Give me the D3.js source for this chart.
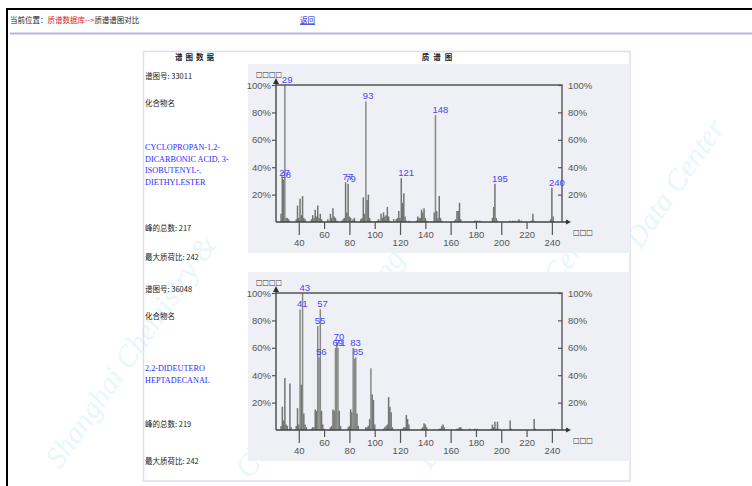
<!DOCTYPE html>
<html>
<head>
<meta charset="utf-8">
<script src="https://cdn.jsdelivr.net/npm/d3@7"></script>
<style>
  body { margin: 0; background: #fff; }
  svg { display: block; }
</style>
</head>
<body>
<svg width="752" height="486"></svg>
<script>
// spectrum 1: 33011
var peaks1 = [
  [26, 6], [27, 32], [28, 31], [29, 100], [30, 3], [31, 3], [32, 2],
  [38, 2], [39, 12], [40, 3], [41, 17], [42, 5], [43, 19], [44, 3], [45, 2],
  [50, 2], [51, 5], [52, 3], [53, 9], [54, 4], [55, 12], [56, 3], [57, 6], [58, 2],
  [63, 2], [65, 6], [66, 3], [67, 10], [68, 4], [69, 3], [70, 1],
  [74, 1], [75, 2], [76, 3], [77, 29], [78, 7], [79, 28], [80, 4], [81, 3], [82, 1], [83, 2], [84, 3],
  [89, 2], [90, 3], [91, 18], [92, 6], [93, 88], [94, 16], [95, 20], [96, 3], [97, 1],
  [102, 1], [103, 2], [104, 1], [105, 6], [106, 3], [107, 7], [108, 4], [109, 5], [110, 11], [111, 4], [112, 1],
  [115, 2], [117, 2], [118, 3], [119, 8], [120, 3], [121, 32], [122, 14], [123, 21], [124, 4], [125, 1], [127, 1],
  [133, 1], [134, 4], [135, 3], [136, 3], [137, 9], [138, 7], [139, 10], [140, 3], [141, 1],
  [147, 7], [148, 78], [149, 8], [150, 3], [151, 19], [152, 3], [153, 1],
  [163, 1], [164, 2], [165, 8], [166, 8], [167, 14], [168, 2],
  [179, 1], [180, 1], [181, 1], [183, 1],
  [193, 3], [194, 11], [195, 28], [196, 3], [197, 1],
  [207, 1], [209, 1], [211, 1], [213, 1], [214, 2], [216, 1],
  [224, 1], [225, 6], [226, 1],
  [239, 2], [240, 25], [241, 4]
];
var labels1 = [29, 27, 28, 77, 79, 93, 121, 148, 195, 240];

// spectrum 2: 36048
var peaks2 = [
  [26, 3], [27, 17], [28, 7], [29, 38], [30, 4], [31, 3], [33, 34], [34, 2],
  [38, 3], [39, 16], [40, 4], [41, 88], [42, 33], [43, 100], [44, 12], [45, 4], [46, 2],
  [50, 1], [51, 2], [52, 2], [53, 15], [54, 14], [55, 76], [56, 53], [57, 88], [58, 14], [59, 4], [60, 1],
  [65, 2], [66, 3], [67, 15], [68, 14], [69, 60], [70, 64], [71, 60], [72, 14], [73, 3],
  [79, 2], [80, 3], [81, 15], [82, 13], [83, 60], [84, 52], [85, 53], [86, 12], [87, 3],
  [93, 2], [94, 2], [95, 3], [96, 8], [97, 45], [98, 26], [99, 22], [100, 4],
  [107, 1], [108, 2], [109, 3], [110, 4], [111, 24], [112, 17], [113, 13], [114, 2],
  [122, 1], [123, 2], [124, 2], [125, 11], [126, 8], [127, 4],
  [137, 1], [138, 2], [139, 5], [140, 4], [141, 2],
  [151, 1], [152, 1], [153, 3], [154, 4], [155, 2],
  [165, 1], [166, 1], [167, 2], [168, 2], [169, 1],
  [175, 1], [179, 1], [181, 1],
  [192, 1], [193, 4], [194, 2], [195, 6], [196, 1], [197, 6], [198, 1],
  [207, 7], [208, 1],
  [226, 8], [227, 1],
  [240, 1], [242, 1]
];
var labels2 = [41, 43, 55, 56, 57, 69, 70, 71, 83, 85];

var yTicks = [20, 40, 60, 80, 100];
var xMajor = [40, 80, 120, 160, 200, 240];
var xMinor = [60, 100, 140, 180, 220];

var svg = d3.select("svg");
var cjk = "'Noto Sans CJK SC', 'Noto Sans', sans-serif";
var sans = "'Liberation Sans', Arial, sans-serif";
var serif = "'Liberation Serif', 'Times New Roman', serif";

// watermark
var wm = svg.append("g").attr("fill", "#e8f7fa").style("font", "italic 30px " + serif);
[["Shanghai Chemistry &", 60, 470], ["Chemical Engineering", 250, 480], ["Engineering Data Center", 430, 470], ["Data Center", 640, 250]]
  .forEach(function (w) {
    wm.append("text").attr("transform", "translate(" + w[1] + "," + w[2] + ") rotate(-55)").text(w[0]);
  });

// page frame
svg.append("line").attr("x1", 6).attr("x2", 752).attr("y1", 9).attr("y2", 9).attr("stroke", "#000").attr("stroke-width", 2);
svg.append("line").attr("x1", 7).attr("x2", 7).attr("y1", 9).attr("y2", 486).attr("stroke", "#000").attr("stroke-width", 2);
svg.append("line").attr("x1", 10).attr("x2", 752).attr("y1", 33.5).attr("y2", 33.5).attr("stroke", "#b4b4e0").attr("stroke-width", 2);

var head = svg.append("text").attr("x", 10).attr("y", 23).style("font", "7.5px " + cjk);
head.append("tspan").attr("fill", "#222").text("当前位置：");
head.append("tspan").attr("fill", "#e0201c").text("质谱数据库-->");
head.append("tspan").attr("fill", "#222").text("质谱谱图对比");
svg.append("text").attr("x", 300).attr("y", 23).attr("fill", "#2020e0")
  .style("font", "7.5px " + cjk).style("text-decoration", "underline").text("返回");

// table
svg.append("rect").attr("x", 143.5).attr("y", 51.5).attr("width", 486.5).attr("height", 429.5)
  .attr("fill", "none").attr("stroke", "#dcdcf2").attr("stroke-width", 1.5);
svg.append("text").attr("x", 196).attr("y", 60).attr("text-anchor", "middle").attr("fill", "#222")
  .style("font", "bold 7.5px " + cjk).style("letter-spacing", "3px").text("谱图数据");
svg.append("text").attr("x", 439).attr("y", 60).attr("text-anchor", "middle").attr("fill", "#222")
  .style("font", "bold 7.5px " + cjk).style("letter-spacing", "4px").text("质谱图");

function info(y0, id, nameLines, nameY, count, maxmz, yCount, yMax) {
  var g = svg.append("g").style("font", "7.5px " + cjk).attr("fill", "#222");
  g.append("text").attr("x", 145).attr("y", y0).text("谱图号: " + id);
  g.append("text").attr("x", 145).attr("y", y0 + 27).text("化合物名");
  nameLines.forEach(function (l, i) {
    g.append("text").attr("x", 145).attr("y", nameY + i * 11.5).attr("fill", "#2c2cff")
      .style("font", "8.2px " + serif).text(l);
  });
  g.append("text").attr("x", 145).attr("y", yCount).text("峰的总数: " + count);
  g.append("text").attr("x", 145).attr("y", yMax).text("最大质荷比: " + maxmz);
}

function spectrum(peaks, labels, yTop, yBase) {
  svg.append("rect").attr("x", 248).attr("y", yTop - 21).attr("width", 382).attr("height", yBase - yTop + 52)
    .attr("fill", "#eef0f5");

  var x = d3.scaleLinear().domain([22, 248]).range([276, 562]);
  var y = d3.scaleLinear().domain([0, 100]).range([yBase, yTop]);
  var g = svg.append("g");

  g.selectAll(".bar").data(peaks).enter().append("line")
    .attr("x1", function (d) { return x(d[0]); })
    .attr("x2", function (d) { return x(d[0]); })
    .attr("y1", yBase)
    .attr("y2", function (d) { return y(d[1]); })
    .attr("stroke", function (d) { return d[1] > 40 ? "#888" : "#737373"; })
    .attr("stroke-width", 1.5);

  // frame
  g.append("path").attr("d", "M276," + yTop + "H562V" + yBase)
    .attr("fill", "none").attr("stroke", "#555").attr("stroke-width", 1.4);
  g.append("line").attr("x1", 276).attr("x2", 567).attr("y1", yBase).attr("y2", yBase)
    .attr("stroke", "#444").attr("stroke-width", 1.4);
  g.append("line").attr("x1", 276).attr("x2", 276).attr("y1", yBase).attr("y2", yTop - 5)
    .attr("stroke", "#444").attr("stroke-width", 1.4);
  g.append("path").attr("d", "M273," + (yTop - 1) + "L276," + (yTop - 7) + "L279," + (yTop - 1) + "Z").attr("fill", "#333");
  g.append("path").attr("d", "M566," + (yBase - 2.5) + "L571," + yBase + "L566," + (yBase + 2.5) + "Z").attr("fill", "#333");

  var ya = g.append("g").attr("transform", "translate(276,0)")
    .call(d3.axisLeft(y).tickValues(yTicks).tickSize(4).tickPadding(1).tickFormat(function (d) { return d + "%"; }));
  var yb = g.append("g").attr("transform", "translate(562,0)")
    .call(d3.axisLeft(y).tickValues(yTicks).tickSize(4).tickFormat(function (d) { return d + "%"; }));
  yb.selectAll("text").attr("x", 6).attr("text-anchor", "start");

  var xa = g.append("g").attr("transform", "translate(0," + yBase + ")")
    .call(d3.axisBottom(x).tickValues(xMajor).tickSize(13).tickPadding(4.5));
  var xb = g.append("g").attr("transform", "translate(0," + yBase + ")")
    .call(d3.axisBottom(x).tickValues(xMinor).tickSize(7).tickPadding(2.5));

  [ya, yb, xa, xb].forEach(function (a) {
    a.select(".domain").remove();
    a.selectAll("line").attr("stroke", "#555").attr("stroke-width", 1.2);
    a.selectAll("text").attr("fill", "#555").style("font", "9.5px " + sans);
  });

  g.append("text").attr("x", 256).attr("y", yTop - 8).attr("textLength", 26).attr("lengthAdjust", "spacingAndGlyphs")
    .attr("fill", "#333").style("font", "8px 'DejaVu Sans'").text("□□□□");
  g.append("text").attr("x", 573).attr("y", yBase + 13).attr("textLength", 20).attr("lengthAdjust", "spacingAndGlyphs")
    .attr("fill", "#333").style("font", "8px 'DejaVu Sans'").text("□□□");

  var lab = peaks.filter(function (d) { return labels.indexOf(d[0]) >= 0; });
  g.selectAll(".lab").data(lab).enter().append("text")
    .attr("x", function (d) { return x(d[0]) - 3; })
    .attr("y", function (d) { return y(d[1]) - 2; })
    .attr("fill", "#4646ff")
    .style("font", "9.5px " + sans)
    .text(function (d) { return d[0]; });
}

info(79, "33011", ["CYCLOPROPAN-1,2-", "DICARBONIC ACID, 3-", "ISOBUTENYL-,", "DIETHYLESTER"], 150, 217, 242, 231, 260);
spectrum(peaks1, labels1, 85, 222);
info(292, "36048", ["2,2-DIDEUTERO", "HEPTADECANAL"], 371, 219, 242, 427, 464);
spectrum(peaks2, labels2, 293, 430);
</script>
</body>
</html>
